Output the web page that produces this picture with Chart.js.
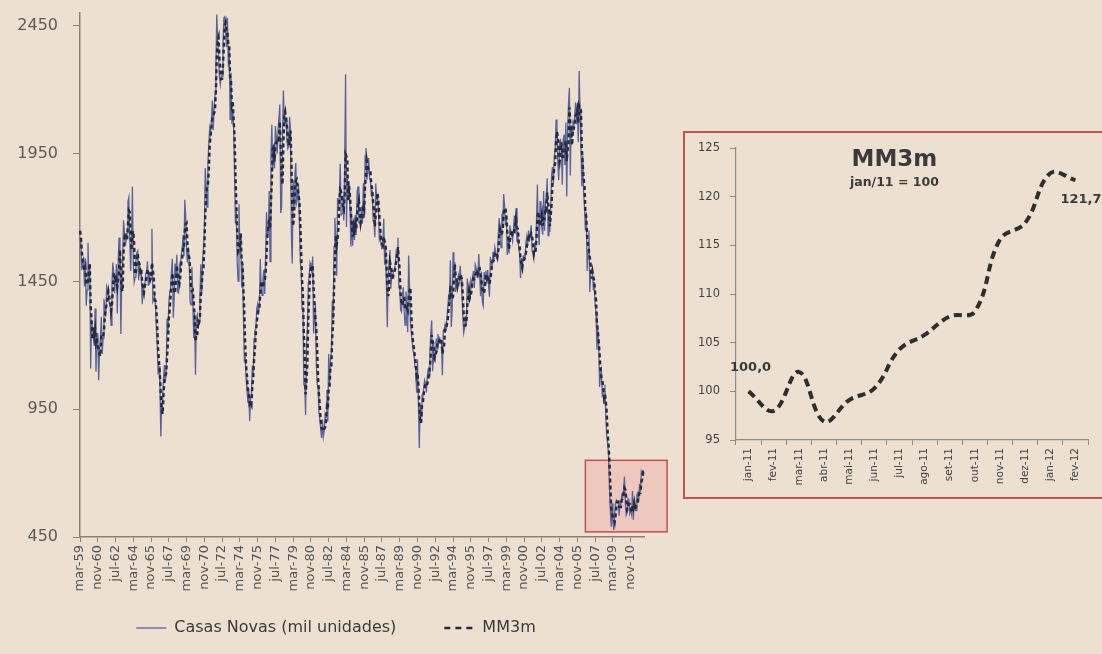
<!DOCTYPE html>
<html lang="pt">
<head>
<meta charset="utf-8">
<script src="https://cdn.jsdelivr.net/npm/chart.js@4/dist/chart.umd.min.js"></script>
<style>
  html, body { margin: 0; padding: 0; width: 1102px; height: 654px; overflow: hidden; background: #eee0d1; }
  #main { position: absolute; left: 0; top: 0; width: 1102px; height: 654px; }
  #insetBox { position: absolute; left: 683px; top: 131px; width: 428px; height: 368px;
              border: 2px solid #c4514d; box-sizing: border-box; }
  #inset { position: absolute; left: 0; top: 0; width: 424px; height: 364px; }
</style>
</head>
<body>
<canvas id="main" width="1102" height="654"></canvas>
<div id="insetBox"><canvas id="inset" width="424" height="364"></canvas></div>
<script>
// Casas novas iniciadas (mil unidades, taxa anualizada), mensal, mar/1959 a fev/2012
const CASAS_NOVAS = [
  1620, 1590, 1498, 1503, 1547, 1430, 1540, 1355, 1416, 1601,             // 1959 (mar-dez)
  1460, 1503, 1109, 1289, 1271, 1247, 1197, 1344, 1097, 1246, 1246, 1063, // 1960
  1183, 1226, 1312, 1166, 1228, 1382, 1335, 1312, 1429, 1415, 1385, 1365, // 1961
  1361, 1278, 1443, 1524, 1483, 1404, 1450, 1517, 1324, 1533, 1622, 1564, // 1962
  1244, 1456, 1534, 1689, 1641, 1588, 1614, 1639, 1763, 1779, 1622, 1491, // 1963
  1603, 1820, 1517, 1448, 1467, 1550, 1562, 1569, 1455, 1524, 1486, 1484, // 1964
  1361, 1433, 1423, 1438, 1478, 1488, 1529, 1432, 1482, 1452, 1460, 1656, // 1965
  1370, 1378, 1394, 1352, 1265, 1194, 1086, 1119, 1046, 843, 961, 990,    // 1966
  1067, 1123, 1056, 1091, 1304, 1248, 1364, 1407, 1421, 1491, 1538, 1308, // 1967
  1380, 1520, 1466, 1554, 1408, 1405, 1512, 1495, 1556, 1569, 1630, 1548, // 1968
  1769, 1705, 1561, 1524, 1583, 1528, 1368, 1358, 1507, 1381, 1229, 1327, // 1969
  1085, 1305, 1319, 1264, 1290, 1385, 1517, 1399, 1534, 1580, 1647, 1893, // 1970
  1828, 1741, 1910, 1986, 2049, 2026, 2083, 2158, 2041, 2128, 2182, 2295, // 1971
  2494, 2390, 2334, 2249, 2221, 2254, 2252, 2382, 2481, 2485, 2421, 2366, // 1972
  2481, 2289, 2365, 2084, 2266, 2067, 2123, 2051, 1874, 1677, 1724, 1526, // 1973
  1451, 1752, 1555, 1607, 1426, 1513, 1316, 1142, 1150, 1070, 1026, 975,  // 1974
  1032, 904, 993, 1005, 1121, 1087, 1226, 1260, 1264, 1344, 1360, 1321,   // 1975
  1367, 1538, 1421, 1395, 1459, 1495, 1401, 1550, 1720, 1629, 1641, 1804, // 1976
  1527, 1943, 2063, 1892, 1971, 1893, 2058, 2020, 1949, 2042, 2042, 2142, // 1977
  1718, 1738, 2032, 2197, 2075, 2070, 2092, 1996, 1970, 1981, 2094, 2044, // 1978
  1630, 1520, 1847, 1748, 1876, 1913, 1760, 1778, 1832, 1681, 1524, 1498, // 1979
  1341, 1350, 1047, 1051, 927, 1196, 1269, 1436, 1471, 1523, 1510, 1482,  // 1980
  1547, 1246, 1306, 1360, 1140, 1045, 1041, 940, 911, 873, 837, 910,      // 1981
  843, 866, 931, 917, 1025, 902, 1166, 1046, 1144, 1173, 1372, 1303,      // 1982
  1586, 1699, 1606, 1472, 1776, 1733, 1785, 1910, 1710, 1715, 1785, 1688, // 1983
  1897, 2260, 1663, 1851, 1774, 1843, 1732, 1586, 1698, 1590, 1689, 1612, // 1984
  1711, 1632, 1800, 1821, 1680, 1676, 1684, 1743, 1676, 1834, 1698, 1942, // 1985
  1972, 1848, 1876, 1933, 1854, 1847, 1782, 1807, 1687, 1681, 1623, 1833, // 1986
  1774, 1784, 1726, 1614, 1628, 1594, 1575, 1605, 1695, 1515, 1589, 1431, // 1987
  1271, 1473, 1532, 1573, 1421, 1478, 1467, 1493, 1492, 1522, 1569, 1563, // 1988
  1621, 1425, 1422, 1339, 1331, 1397, 1427, 1332, 1279, 1410, 1351, 1251, // 1989
  1551, 1437, 1289, 1248, 1212, 1177, 1171, 1115, 1110, 1014, 1145, 969,  // 1990
  798, 965, 921, 1001, 996, 1036, 1063, 1049, 1015, 1079, 1103, 1079,     // 1991
  1176, 1250, 1297, 1099, 1214, 1145, 1139, 1226, 1186, 1244, 1214, 1227, // 1992
  1210, 1210, 1083, 1258, 1260, 1280, 1254, 1300, 1343, 1392, 1376, 1533, // 1993
  1272, 1337, 1564, 1465, 1526, 1409, 1439, 1450, 1474, 1450, 1511, 1455, // 1994
  1407, 1316, 1249, 1267, 1314, 1281, 1461, 1416, 1369, 1369, 1452, 1431, // 1995
  1467, 1491, 1424, 1516, 1504, 1467, 1472, 1557, 1475, 1392, 1489, 1370, // 1996
  1355, 1486, 1457, 1492, 1442, 1494, 1437, 1390, 1546, 1520, 1510, 1566, // 1997
  1525, 1584, 1567, 1540, 1536, 1641, 1698, 1614, 1582, 1715, 1660, 1792, // 1998
  1748, 1670, 1710, 1553, 1611, 1559, 1669, 1648, 1635, 1608, 1648, 1708, // 1999
  1636, 1737, 1604, 1626, 1575, 1559, 1463, 1541, 1507, 1549, 1551, 1532, // 2000
  1600, 1625, 1590, 1649, 1605, 1636, 1670, 1567, 1562, 1540, 1602, 1568, // 2001
  1698, 1829, 1642, 1592, 1764, 1717, 1655, 1633, 1804, 1648, 1753, 1788, // 2002
  1853, 1629, 1726, 1643, 1751, 1867, 1897, 1833, 1939, 1967, 2083, 2057, // 2003
  1911, 1846, 1998, 2003, 1981, 1828, 2002, 2024, 1905, 2072, 1782, 2042, // 2004
  2144, 2207, 1864, 2061, 2025, 2068, 2054, 2095, 2151, 2065, 2147, 1994, // 2005
  2273, 2119, 1969, 1821, 1942, 1802, 1737, 1650, 1720, 1491, 1570, 1649, // 2006
  1409, 1480, 1495, 1490, 1415, 1448, 1354, 1330, 1183, 1264, 1197, 1037, // 2007
  1084, 1103, 1005, 1013, 973, 1046, 923, 844, 820, 777, 652, 560,        // 2008
  490, 582, 505, 478, 540, 585, 594, 586, 585, 534, 588, 581,             // 2009
  614, 604, 636, 687, 583, 536, 546, 599, 594, 543, 555, 539,             // 2010
  630, 518, 600, 555, 553, 615, 623, 585, 658, 627, 706, 697,             // 2011
  706, 698                                                                // 2012 (jan-fev)
];

// Média móvel de 3 meses (MM3m) da mesma série
const MM3M = [
  1648, 1626, 1569, 1530, 1516, 1493, 1506, 1442, 1437, 1457,             // 1959
  1492, 1521, 1357, 1300, 1223, 1269, 1238, 1263, 1213, 1229, 1196, 1185, // 1960
  1164, 1157, 1240, 1235, 1235, 1259, 1315, 1343, 1359, 1385, 1410, 1388, // 1961
  1370, 1335, 1361, 1415, 1483, 1470, 1446, 1457, 1430, 1458, 1493, 1573, // 1962
  1477, 1421, 1411, 1560, 1621, 1639, 1614, 1614, 1672, 1727, 1721, 1631, // 1963
  1572, 1638, 1647, 1595, 1477, 1488, 1526, 1560, 1529, 1516, 1488, 1498, // 1964
  1444, 1426, 1406, 1431, 1446, 1468, 1498, 1483, 1481, 1455, 1465, 1523, // 1965
  1495, 1468, 1381, 1375, 1337, 1270, 1182, 1133, 1084, 1003, 950, 931,   // 1966
  1006, 1060, 1082, 1090, 1150, 1214, 1305, 1340, 1397, 1440, 1483, 1446, // 1967
  1409, 1403, 1455, 1513, 1476, 1456, 1442, 1471, 1521, 1540, 1585, 1582, // 1968
  1649, 1674, 1678, 1597, 1556, 1545, 1493, 1418, 1411, 1415, 1372, 1312, // 1969
  1214, 1239, 1236, 1296, 1291, 1313, 1397, 1434, 1483, 1504, 1587, 1707, // 1970
  1789, 1821, 1826, 1879, 1982, 2020, 2053, 2089, 2094, 2109, 2117, 2202, // 1971
  2324, 2393, 2406, 2324, 2268, 2241, 2242, 2296, 2372, 2449, 2462, 2424, // 1972
  2423, 2379, 2378, 2246, 2238, 2139, 2152, 2080, 2016, 1867, 1758, 1642, // 1973
  1567, 1576, 1586, 1638, 1529, 1515, 1418, 1324, 1203, 1121, 1082, 1024, // 1974
  1011, 970, 976, 967, 1040, 1071, 1145, 1191, 1250, 1289, 1323, 1342,    // 1975
  1349, 1409, 1442, 1451, 1425, 1450, 1452, 1482, 1557, 1633, 1663, 1691, // 1976
  1657, 1758, 1844, 1966, 1975, 1919, 1974, 1990, 2009, 2004, 2011, 2075, // 1977
  1967, 1866, 1829, 1989, 2101, 2114, 2079, 2053, 2019, 1982, 2015, 2040, // 1978
  1923, 1731, 1666, 1705, 1824, 1846, 1850, 1817, 1790, 1764, 1679, 1568, // 1979
  1454, 1396, 1246, 1149, 1008, 1058, 1131, 1300, 1392, 1477, 1501, 1505, // 1980
  1513, 1425, 1366, 1304, 1269, 1182, 1075, 1009, 964, 908, 874, 873,     // 1981
  863, 873, 880, 905, 958, 948, 1031, 1038, 1119, 1121, 1230, 1283,       // 1982
  1420, 1529, 1630, 1592, 1618, 1660, 1765, 1809, 1802, 1778, 1737, 1729, // 1983
  1790, 1948, 1940, 1925, 1763, 1823, 1783, 1720, 1672, 1625, 1659, 1630, // 1984
  1671, 1652, 1714, 1751, 1767, 1726, 1680, 1701, 1701, 1751, 1736, 1825, // 1985
  1871, 1921, 1899, 1886, 1888, 1878, 1828, 1812, 1759, 1725, 1664, 1712, // 1986
  1743, 1797, 1761, 1708, 1656, 1612, 1599, 1591, 1625, 1605, 1600, 1512, // 1987
  1430, 1392, 1425, 1526, 1509, 1491, 1455, 1479, 1484, 1502, 1528, 1551, // 1988
  1584, 1536, 1489, 1395, 1364, 1356, 1385, 1385, 1346, 1340, 1347, 1337, // 1989
  1384, 1413, 1426, 1325, 1250, 1212, 1187, 1154, 1132, 1080, 1090, 1043, // 1990
  971, 911, 895, 962, 973, 1011, 1032, 1049, 1042, 1048, 1066, 1087,      // 1991
  1119, 1168, 1241, 1215, 1203, 1153, 1166, 1170, 1184, 1219, 1215, 1228, // 1992
  1217, 1216, 1168, 1184, 1200, 1266, 1265, 1278, 1299, 1345, 1370, 1434, // 1993
  1394, 1381, 1391, 1455, 1518, 1467, 1458, 1433, 1454, 1458, 1478, 1472, // 1994
  1458, 1393, 1324, 1277, 1277, 1287, 1352, 1386, 1415, 1385, 1397, 1417, // 1995
  1450, 1463, 1461, 1477, 1481, 1496, 1481, 1499, 1501, 1475, 1452, 1417, // 1996
  1405, 1404, 1433, 1478, 1464, 1476, 1458, 1440, 1458, 1485, 1525, 1532, // 1997
  1534, 1558, 1559, 1564, 1548, 1572, 1625, 1651, 1631, 1637, 1652, 1722, // 1998
  1733, 1737, 1709, 1644, 1625, 1574, 1613, 1625, 1651, 1630, 1630, 1655, // 1999
  1664, 1694, 1659, 1656, 1602, 1587, 1532, 1521, 1504, 1532, 1536, 1544, // 2000
  1561, 1586, 1605, 1621, 1615, 1630, 1637, 1624, 1600, 1556, 1568, 1570, // 2001
  1623, 1698, 1723, 1688, 1666, 1691, 1712, 1668, 1697, 1695, 1735, 1730, // 2002
  1798, 1757, 1736, 1666, 1707, 1754, 1838, 1866, 1890, 1913, 1996, 2036, // 2003
  2017, 1938, 1918, 1949, 1994, 1937, 1937, 1951, 1977, 2000, 1920, 1965, // 2004
  1989, 2131, 2072, 2044, 1983, 2051, 2049, 2072, 2100, 2104, 2121, 2069, // 2005
  2138, 2129, 2120, 1970, 1911, 1855, 1827, 1730, 1702, 1620, 1594, 1570, // 2006
  1543, 1513, 1461, 1488, 1467, 1451, 1406, 1377, 1289, 1259, 1215, 1166, // 2007
  1106, 1075, 1064, 1040, 997, 1011, 981, 938, 862, 814, 750, 663,        // 2008
  567, 544, 526, 522, 508, 534, 573, 588, 588, 568, 569, 568,             // 2009
  594, 600, 618, 642, 635, 602, 555, 560, 580, 579, 564, 546,             // 2010
  575, 562, 583, 558, 569, 574, 597, 608, 622, 623, 664, 677,             // 2011
  703, 700                                                                // 2012
];

// Rótulos de mês e eixo
const MESES = ['jan', 'fev', 'mar', 'abr', 'mai', 'jun', 'jul', 'ago', 'set', 'out', 'nov', 'dez'];
const ANO_INICIAL = 1959;
const MES_INICIAL = 2;             // março
const INTERVALO_ROTULOS = 20;      // um rótulo a cada 20 meses
const Y_TICKS = [450, 950, 1450, 1950, 2450];
const Y_MIN = 450, Y_MAX = 2500;

// Destaque do período recente (mês inicial, meses além do fim, faixa de valores)
const DESTAQUE = { inicio: 'ago-06', mesesAlemDoFim: 26, baixo: 470, alto: 750 };

// Quadro: MM3m indexada (jan/11 = 100)
const INSET_MESES = ['jan-11', 'fev-11', 'mar-11', 'abr-11', 'mai-11', 'jun-11', 'jul-11',
                     'ago-11', 'set-11', 'out-11', 'nov-11', 'dez-11', 'jan-12', 'fev-12'];
const INSET_MM3M = [100.0, 98.0, 102.0, 96.9, 99.1, 100.3, 104.3, 105.8, 107.7, 108.2, 115.6, 117.3, 122.4, 121.7];
const INSET_Y_TICKS = [95, 100, 105, 110, 115, 120, 125];

// Rótulos mensais "mar-59", "abr-59", ...
const LABELS = CASAS_NOVAS.map((_, i) => {
  const m = MES_INICIAL + i;
  const ano = ANO_INICIAL + Math.floor(m / 12);
  return MESES[m % 12] + '-' + String(ano % 100).padStart(2, '0');
});

const FONT = 'DejaVu Sans';
const LEGENDA_FONTE = 16;
const LEGENDA_ESPACO = 48;
const LEGENDA_CENTRO = { x: 336, y: 628 };

// Caixa rosada sobre o período recente, desenhada sob as linhas
const destaquePlugin = {
  id: 'destaque',
  beforeDatasetsDraw(chart) {
    const { ctx, scales: { x, y } } = chart;
    const i0 = LABELS.indexOf(DESTAQUE.inicio);
    const i1 = LABELS.length - 1 + DESTAQUE.mesesAlemDoFim;
    const left = x.getPixelForValue(i0), right = x.getPixelForValue(i1);
    const top = y.getPixelForValue(DESTAQUE.alto), bottom = y.getPixelForValue(DESTAQUE.baixo);
    ctx.save();
    ctx.fillStyle = 'rgba(238, 168, 162, 0.42)';
    ctx.fillRect(left, top, right - left, bottom - top);
    ctx.strokeStyle = '#c0504d';
    ctx.lineWidth = 1.5;
    ctx.strokeRect(left, top, right - left, bottom - top);
    ctx.restore();
  }
};

// Legenda numa linha centrada abaixo dos rótulos do eixo x
const legendaPlugin = {
  id: 'posicaoLegenda',
  afterLayout(chart) {
    const lg = chart.legend;
    if (!lg) return;
    const w = lg.right - lg.left;
    lg.left = LEGENDA_CENTRO.x - w / 2; lg.right = lg.left + w;
    lg.top = LEGENDA_CENTRO.y - LEGENDA_ESPACO - LEGENDA_FONTE / 2;
    lg.bottom = LEGENDA_CENTRO.y + LEGENDA_FONTE;
    lg.height = lg.bottom - lg.top;
  }
};

new Chart(document.getElementById('main'), {
  type: 'line',
  data: {
    labels: LABELS,
    datasets: [
      {
        label: 'Casas Novas (mil unidades)',
        data: CASAS_NOVAS,
        borderColor: '#58639b',
        borderWidth: 1.3,
        pointRadius: 0,
        tension: 0,
        order: 0
      },
      {
        label: 'MM3m',
        data: MM3M,
        borderColor: '#262a3c',
        borderWidth: 2.4,
        borderDash: [4, 3],
        pointRadius: 0,
        tension: 0,
        order: -1
      }
    ]
  },
  options: {
    responsive: false,
    animation: false,
    devicePixelRatio: 1,
    layout: { padding: { left: 0, right: 458, top: 13, bottom: 25 } },
    plugins: {
      tooltip: { enabled: false },
      legend: {
        position: 'bottom',
        maxHeight: 30,
        labels: {
          usePointStyle: true,
          pointStyle: 'line',
          pointStyleWidth: 30,
          padding: LEGENDA_ESPACO,
          color: '#3a3a3a',
          font: { family: FONT, size: LEGENDA_FONTE },
          sort: (a, b) => a.datasetIndex - b.datasetIndex,
          // traço mais espaçado na amostra da MM3m
          generateLabels: (chart) => Chart.defaults.plugins.legend.labels.generateLabels(chart)
            .map(it => (it.datasetIndex === 1 ? Object.assign(it, { lineDash: [6, 5] }) : it))
        }
      }
    },
    scales: {
      x: {
        type: 'category',
        offset: false,
        grid: { display: true, drawOnChartArea: false, drawTicks: true, tickLength: 5, color: '#8a8278' },
        border: { display: true, color: '#8a8278', width: 1.5 },
        ticks: {
          autoSkip: false,
          minRotation: 90,
          maxRotation: 90,
          padding: 3,
          color: '#555',
          font: { family: FONT, size: 13 },
          callback: (v, i) => (i % INTERVALO_ROTULOS === 0 ? LABELS[i] : null)
        },
        afterFit: (s) => { s.height = 62; }
      },
      y: {
        min: Y_MIN,
        max: Y_MAX,
        grid: { display: true, drawOnChartArea: false, drawTicks: true, tickLength: 7, color: '#8a8278' },
        border: { display: true, color: '#8a8278', width: 1.5 },
        afterBuildTicks: (s) => { s.ticks = Y_TICKS.map(v => ({ value: v })); },
        ticks: { padding: 15, color: '#5a5a5a', font: { family: FONT, size: 16 }, callback: (v) => String(v) },
        afterFit: (s) => { s.width = 80; s.paddingTop = 8; s.paddingBottom = 8; }
      }
    }
  },
  plugins: [destaquePlugin, legendaPlugin]
});

// Quadro com a MM3m indexada
const insetTextPlugin = {
  id: 'insetText',
  afterDatasetsDraw(chart) {
    const { ctx, chartArea: a } = chart;
    const pts = chart.getDatasetMeta(0).data;
    const fmt = (v) => v.toFixed(1).replace('.', ',');
    const cx = a.left + a.width * 0.45;
    ctx.save();
    ctx.fillStyle = '#3a3a3a';
    ctx.textAlign = 'center';
    ctx.textBaseline = 'middle';
    ctx.font = 'bold 23px "' + FONT + '"';
    ctx.fillText('MM3m', cx, a.top + 12);
    ctx.font = 'bold 12.5px "' + FONT + '"';
    ctx.fillText('jan/11 = 100', cx, a.top + 35);
    ctx.font = 'bold 13px "' + FONT + '"';
    const p0 = pts[0], pn = pts[pts.length - 1];
    ctx.fillText(fmt(INSET_MM3M[0]), p0.x + 2, p0.y - 24);
    ctx.textAlign = 'left';
    ctx.fillText(fmt(INSET_MM3M[INSET_MM3M.length - 1]), pn.x - 15, pn.y + 20);
    ctx.restore();
  }
};

new Chart(document.getElementById('inset'), {
  type: 'line',
  data: {
    labels: INSET_MESES,
    datasets: [{
      label: 'MM3m',
      data: INSET_MM3M,
      borderColor: '#2e2e2e',
      borderWidth: 4,
      borderDash: [8, 5],
      pointRadius: 0,
      tension: 0.4
    }]
  },
  options: {
    responsive: false,
    animation: false,
    devicePixelRatio: 1,
    layout: { padding: { left: 0, right: 21, top: 15, bottom: 0 } },
    plugins: { legend: { display: false }, tooltip: { enabled: false } },
    scales: {
      x: {
        type: 'category',
        offset: true,
        grid: { display: true, offset: true, drawOnChartArea: false, tickLength: 5, color: '#8c8c8c' },
        border: { display: true, color: '#8c8c8c', width: 1.2 },
        ticks: {
          autoSkip: false, minRotation: 90, maxRotation: 90, padding: 3,
          color: '#444', font: { family: FONT, size: 10.5 }
        },
        afterFit: (s) => { s.height = 57; }
      },
      y: {
        min: 95,
        max: 125,
        grid: { display: true, drawOnChartArea: false, tickLength: 6, color: '#8c8c8c' },
        border: { display: true, color: '#8c8c8c', width: 1.2 },
        afterBuildTicks: (s) => { s.ticks = INSET_Y_TICKS.map(v => ({ value: v })); },
        ticks: { padding: 10, color: '#444', font: { family: FONT, size: 11.5 } },
        afterFit: (s) => { s.width = 51; s.paddingTop = 6; s.paddingBottom = 6; }
      }
    }
  },
  plugins: [insetTextPlugin]
});
</script>
</body>
</html>
